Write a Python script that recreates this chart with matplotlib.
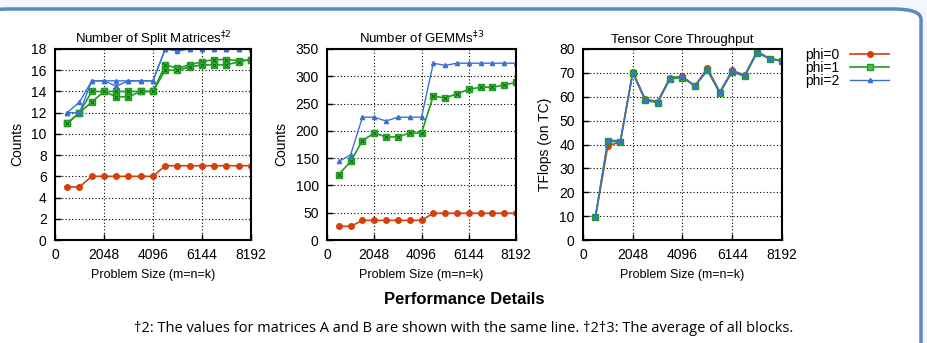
import numpy as np
import matplotlib.pyplot as plt
from matplotlib.patches import FancyBboxPatch

plt.rcParams['font.family'] = ['Liberation Sans', 'DejaVu Sans']

# problem sizes (m=n=k)
sizes = [512, 1024, 1536, 2048, 2560, 3072, 3584, 4096,
         4608, 5120, 5632, 6144, 6656, 7168, 7680, 8192]

# number of split matrices (A and B drawn as separate lines)
split_phi0 = [5, 5, 6, 6, 6, 6, 6, 6, 7, 7, 7, 7, 7, 7, 7, 7]
split_phi1_a = [11, 12, 14, 14, 14, 14, 14, 14, 16.5, 16.2, 16.5, 16.8, 17, 17, 16.9, 17]
split_phi1_b = [11, 12, 13, 14, 13.5, 13.5, 14, 14, 16, 16, 16.3, 16.5, 16.5, 16.5, 16.8, 17]
split_phi2_a = [12, 12, 15, 15, 15, 15, 15, 15, 18, 18, 18, 18, 18, 18, 18, 18]
split_phi2_b = [12, 13, 15, 15, 14.5, 15, 15, 15, 18, 17.8, 18, 18, 18, 18, 18, 18]

# number of GEMMs
gemm_phi0 = [25, 25, 36, 36, 36, 36, 36, 36, 49, 49, 49, 49, 49, 49, 49, 49]
gemm_phi1 = [120, 144, 182, 196, 189, 189, 196, 196, 264, 260, 268, 276, 280, 280, 284, 289]
gemm_phi2 = [144, 156, 225, 225, 218, 225, 225, 225, 324, 320, 324, 324, 324, 324, 324, 324]

# tensor core throughput (TFlops)
tflops_phi0 = [9.5, 39.5, 41, 70.5, 59, 58, 68, 68.5, 64.5, 72, 62, 71, 69, 79, 76, 75]
tflops_phi1 = [9.5, 41.5, 41, 70, 58.5, 57.5, 67.5, 68, 64.5, 71, 61.5, 70.5, 68.5, 78.5, 75.8, 75]
tflops_phi2 = [10, 42, 41.5, 70, 58.5, 58, 68, 68.5, 64.5, 71.5, 62, 71, 69, 78.8, 76, 75.3]

xticks = [0, 2048, 4096, 6144, 8192]
red = '#d3400c'
green = '#1f9d1f'
blue = '#3c70d8'

fig = plt.figure(figsize=(9.28, 3.43), dpi=100)
fig.patch.set_facecolor('#f3f6fa')

W, H = 928, 343
frame = FancyBboxPatch((-20 / W, -60 / H), 941 / W, (343 - 9 + 60) / H,
                       boxstyle='round,pad=0,rounding_size=0.03',
                       transform=fig.transFigure, facecolor='white',
                       edgecolor='#5b87c8', linewidth=2.5, zorder=-5)
fig.patches.append(frame)


def axes_px(left, right, top, bottom):
    return fig.add_axes([left / W, 1 - bottom / H, (right - left) / W, (bottom - top) / H])


def draw(ax, x, y, kind, label=None):
    if kind == 0:
        ax.plot(x, y, color=red, lw=1.2, marker='o', ms=4, label=label)
    elif kind == 1:
        ax.plot(x, y, color=green, lw=1.2, marker='s', ms=4, mfc='#4cc04c', label=label)
        ax.plot(x, y, color='#0b6b0b', lw=0, marker='x', ms=3.5, mew=0.8)
    else:
        ax.plot(x, y, color=blue, lw=1.0, marker='^', ms=3, label=label)


def style(ax, ymax, ystep, title, ylabel):
    ax.set_xlim(0, 8192)
    ax.set_ylim(0, ymax)
    ax.set_xticks(xticks)
    ax.set_yticks(np.arange(0, ymax + 0.1, ystep))
    ax.grid(True, color='black', linestyle=(0, (1, 2)), linewidth=0.8)
    ax.tick_params(direction='in', labelsize=10, length=4, width=1, pad=6)
    for s in ax.spines.values():
        s.set_linewidth(1.5)
    ax.set_title(title, fontsize=9.5, pad=4)
    ax.set_ylabel(ylabel, fontsize=10, labelpad=5)
    ax.set_xlabel('Problem Size (m=n=k)', fontsize=9, labelpad=5)


ax1 = axes_px(55, 251, 49, 240)
draw(ax1, sizes, split_phi0, 0)
draw(ax1, sizes, split_phi1_a, 1)
draw(ax1, sizes, split_phi1_b, 1)
draw(ax1, sizes, split_phi2_a, 2)
draw(ax1, sizes, split_phi2_b, 2)
style(ax1, 18, 2, 'Number of Split Matrices$^{‡2}$', 'Counts')

ax2 = axes_px(327, 516, 49, 240)
draw(ax2, sizes, gemm_phi0, 0)
draw(ax2, sizes, gemm_phi1, 1)
draw(ax2, sizes, gemm_phi2, 2)
style(ax2, 350, 50, 'Number of GEMMs$^{‡3}$', 'Counts')

ax3 = axes_px(583, 782, 49, 240)
draw(ax3, sizes, tflops_phi0, 0, 'phi=0')
draw(ax3, sizes, tflops_phi1, 1, 'phi=1')
draw(ax3, sizes, tflops_phi2, 2, 'phi=2')
style(ax3, 80, 10, 'Tensor Core Throughput', 'TFlops (on TC)')
ax3.legend(loc='upper left', bbox_to_anchor=(1.08, 1.04), frameon=False,
           markerfirst=False, fontsize=10, handlelength=2.8, handletextpad=0.8,
           labelspacing=-0.1, borderpad=0)

fig.text(0.5, 1 - 300 / H, 'Performance Details', ha='center', va='center',
         fontsize=12, fontweight='bold')
fig.text(0.5, 1 - 328 / H,
         '†2: The values for matrices A and B are shown with the same line. †2†3: The average of all blocks.',
         ha='center', va='center', fontsize=10.5, family=['Open Sans', 'DejaVu Sans'])

fig.savefig('out.png', dpi=100, facecolor=fig.get_facecolor())
